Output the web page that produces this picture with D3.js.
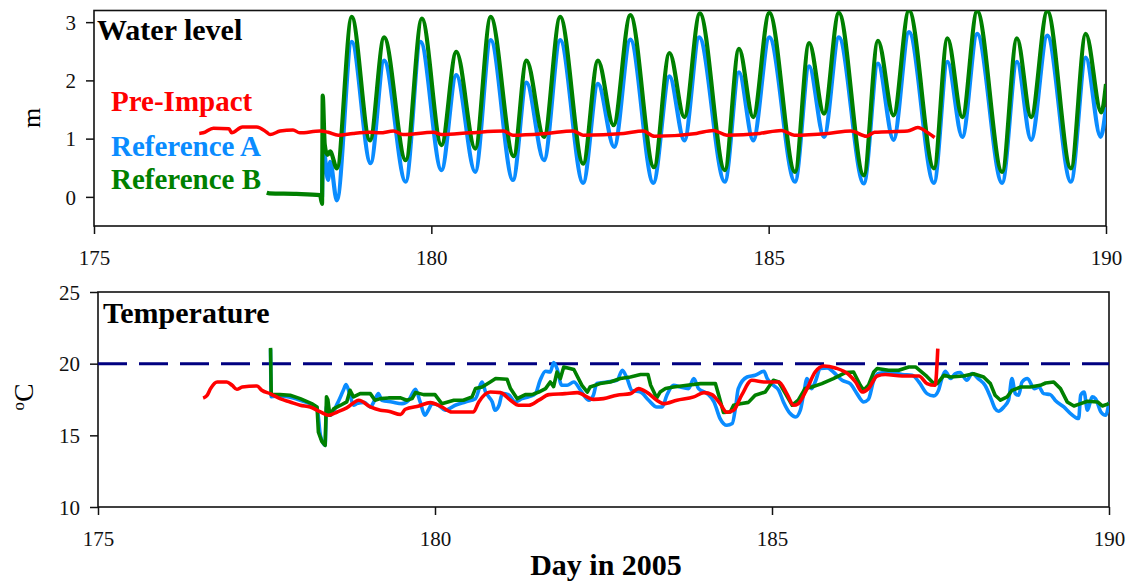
<!DOCTYPE html>
<html>
<head>
<meta charset="utf-8">
<script src="https://cdn.jsdelivr.net/npm/d3@7"></script>
<style>
  html, body { margin: 0; padding: 0; background: #fff; }
  svg { display: block; }
  text { font-family: "Liberation Serif", "Times New Roman", serif; }
</style>
</head>
<body>
<svg id="chart" width="1128" height="582"></svg>
<script>
// ---- data: day of year 2005 vs. value ----
const dayTicks = [175, 180, 185, 190];
const levelTicks = [0, 1, 2, 3];
const tempTicks = [10, 15, 20, 25];
const tempThreshold = 20;

const seriesNames = ["Pre-Impact", "Reference A", "Reference B"];
const seriesColors = ["#ff0000", "#0a8cff", "#008000"];

// Water level (m)
const levelPreImpact = [
  [176.56,1.09],[176.62,1.1],[176.77,1.18],[177.0,1.17],[177.04,1.1],[177.2,1.2],[177.41,1.2],
  [177.56,1.11],[177.61,1.07],[177.76,1.13],[177.95,1.15],[178.05,1.1],[178.35,1.13],[178.47,1.11],
  [178.62,1.06],[178.84,1.09],[179.09,1.11],[179.24,1.1],[179.44,1.13],[179.58,1.07],[180.03,1.11],
  [180.15,1.07],[180.57,1.1],[181.07,1.13],[181.21,1.06],[181.71,1.09],[182.1,1.13],[182.25,1.06],
  [182.85,1.09],[183.14,1.13],[183.31,1.04],[183.93,1.09],[184.18,1.14],[184.38,1.06],[184.87,1.09],
  [185.19,1.14],[185.38,1.06],[185.88,1.09],[186.22,1.13],[186.45,1.04],[186.57,1.11],[187.06,1.13],
  [187.21,1.19],[187.36,1.1],[187.46,1.02]
];
const levelRefA = [
  [178.38,0.0],[178.4,0.83],[178.47,0.29],[178.5,0.6],[178.6,-0.06],[178.82,2.66],[179.1,0.58],
  [179.3,2.34],[179.62,0.26],[179.84,2.66],[180.15,0.46],[180.37,2.09],[180.65,0.43],[180.88,2.69],
  [181.21,0.29],[181.41,1.96],[181.67,0.63],[181.91,2.69],[182.25,0.24],[182.47,1.94],[182.71,0.86],
  [182.95,2.7],[183.29,0.24],[183.53,2.07],[183.75,0.97],[183.97,2.74],[184.35,0.26],[184.56,2.14],
  [184.77,0.97],[185.01,2.74],[185.39,0.26],[185.6,2.24],[185.82,1.03],[186.04,2.74],[186.41,0.23],
  [186.62,2.29],[186.85,0.98],[187.08,2.83],[187.45,0.24],[187.65,2.32],[187.87,1.03],[188.09,2.8],
  [188.46,0.24],[188.68,2.32],[188.89,0.98],[189.13,2.77],[189.48,0.26],[189.7,2.39],[189.92,1.03],
  [190.0,1.54]
];
const levelRefB = [
  [177.56,0.07],[177.6,0.06],[178.0,0.05],[178.35,0.03],[178.38,-0.12],[178.39,1.74],[178.42,0.9],
  [178.46,0.72],[178.5,0.78],[178.6,0.49],[178.82,3.09],[179.09,0.97],[179.3,2.74],[179.62,0.63],
  [179.86,3.06],[180.15,0.89],[180.37,2.49],[180.65,0.83],[180.88,3.09],[181.22,0.7],[181.41,2.34],
  [181.67,1.03],[181.91,3.09],[182.25,0.57],[182.47,2.34],[182.7,1.23],[182.95,3.12],[183.3,0.51],
  [183.53,2.47],[183.75,1.37],[183.98,3.15],[184.35,0.46],[184.56,2.54],[184.77,1.37],[185.01,3.16],
  [185.39,0.43],[185.6,2.64],[185.82,1.43],[186.04,3.16],[186.41,0.37],[186.62,2.68],[186.85,1.4],
  [187.08,3.2],[187.45,0.49],[187.65,2.72],[187.87,1.37],[188.09,3.19],[188.46,0.43],[188.68,2.72],
  [188.89,1.37],[189.13,3.19],[189.48,0.49],[189.7,2.8],[189.93,1.45],[190.0,1.94]
];

// Temperature (°C)
const tempPreImpact = [
  [176.56,17.6],[176.62,17.8],[176.67,18.26],[176.77,18.72],[176.91,18.72],[176.99,18.49],[177.06,18.21],
  [177.14,18.37],[177.36,18.44],[177.43,18.14],[177.56,17.9],[177.7,17.56],[177.85,17.33],[178.0,17.1],
  [178.15,16.98],[178.3,16.63],[178.42,16.4],[178.55,16.63],[178.69,16.91],[178.87,17.45],[179.04,16.98],
  [179.19,16.75],[179.31,16.68],[179.49,16.45],[179.56,16.82],[179.76,17.05],[179.93,17.28],[180.1,16.98],
  [180.25,16.63],[180.57,16.63],[180.65,17.33],[180.82,18.02],[180.97,17.98],[181.12,17.45],[181.24,17.1],
  [181.39,17.1],[181.54,17.45],[181.69,17.84],[181.93,17.91],[182.11,17.98],[182.35,17.51],[182.5,17.56],
  [182.7,17.8],[182.9,17.91],[183.02,18.26],[183.15,17.98],[183.29,17.45],[183.39,17.21],[183.59,17.45],
  [183.84,17.68],[183.99,17.98],[184.11,17.84],[184.23,17.21],[184.33,16.61],[184.43,16.75],[184.55,17.8],
  [184.7,18.84],[184.9,18.72],[185.1,18.72],[185.22,17.91],[185.32,17.1],[185.39,17.21],[185.52,18.26],
  [185.64,19.42],[185.77,19.84],[185.94,19.7],[186.14,19.24],[186.24,18.72],[186.34,18.02],[186.43,18.26],
  [186.56,19.14],[186.68,19.24],[186.93,19.14],[187.18,19.14],[187.3,18.61],[187.42,18.49],[187.46,21.05]
];
const tempRefA = [
  [177.56,21.0],[177.57,17.7],[177.7,17.75],[178.0,17.45],[178.25,16.9],[178.3,15.0],[178.37,14.3],
  [178.39,17.0],[178.45,16.4],[178.55,17.21],[178.64,18.14],[178.68,18.54],[178.74,17.8],[178.79,17.1],
  [178.84,17.21],[178.95,17.3],[179.04,16.98],[179.11,17.5],[179.16,17.91],[179.21,17.45],[179.36,17.33],
  [179.51,17.21],[179.61,17.45],[179.71,18.21],[179.78,17.33],[179.85,16.4],[179.9,16.75],[179.96,17.21],
  [180.05,17.1],[180.15,16.75],[180.3,17.1],[180.45,17.33],[180.6,17.56],[180.7,18.72],[180.75,18.02],
  [180.8,17.68],[180.85,17.33],[180.89,16.75],[180.95,17.1],[181.0,17.91],[181.09,17.84],[181.19,17.33],
  [181.29,17.56],[181.39,17.68],[181.49,17.91],[181.56,18.84],[181.64,19.47],[181.71,19.42],[181.76,20.07],
  [181.81,19.66],[181.88,18.49],[181.96,18.49],[182.06,18.72],[182.16,18.14],[182.28,17.45],[182.35,17.8],
  [182.4,18.61],[182.55,18.72],[182.7,18.84],[182.78,19.54],[182.85,18.96],[182.92,18.14],[183.05,18.02],
  [183.17,17.45],[183.29,16.98],[183.37,16.98],[183.44,17.8],[183.54,18.49],[183.64,18.37],[183.76,18.26],
  [183.84,18.96],[183.91,18.26],[184.04,17.91],[184.14,17.33],[184.23,16.17],[184.33,15.7],[184.41,15.82],
  [184.46,16.98],[184.5,18.26],[184.63,19.07],[184.75,19.19],[184.88,19.47],[184.93,18.96],[185.02,18.49],
  [185.1,18.14],[185.17,17.33],[185.27,16.52],[185.35,16.28],[185.42,16.75],[185.47,17.91],[185.52,18.96],
  [185.59,18.26],[185.64,18.72],[185.72,19.66],[185.82,19.7],[185.91,19.42],[186.04,18.84],[186.16,18.61],
  [186.26,17.91],[186.36,17.33],[186.43,17.51],[186.51,18.84],[186.58,19.31],[186.73,19.42],[186.93,19.24],
  [187.08,19.19],[187.18,18.72],[187.3,17.91],[187.4,17.75],[187.47,18.14],[187.52,18.96],[187.57,19.47],
  [187.65,18.96],[187.72,19.31],[187.79,19.38],[187.89,18.84],[187.97,19.31],[188.06,18.96],[188.16,18.49],
  [188.24,17.68],[188.31,16.87],[188.36,16.68],[188.44,16.98],[188.51,17.45],[188.56,18.96],[188.61,17.91],
  [188.66,17.8],[188.71,18.72],[188.79,18.96],[188.89,18.26],[188.96,18.37],[189.03,17.91],[189.13,17.84],
  [189.2,17.45],[189.33,16.98],[189.43,16.52],[189.55,16.17],[189.58,17.8],[189.63,18.02],[189.68,16.75],
  [189.75,17.68],[189.8,17.56],[189.88,16.63],[189.95,16.4],[190.0,17.33]
];
const tempRefB = [
  [177.56,21.1],[177.57,17.84],[177.7,17.84],[177.85,17.8],[178.0,17.56],[178.17,17.21],[178.25,16.98],
  [178.27,15.23],[178.32,14.58],[178.37,14.3],[178.39,17.68],[178.41,17.5],[178.44,16.4],[178.5,16.87],
  [178.6,17.1],[178.69,17.33],[178.74,18.14],[178.79,17.68],[178.89,17.91],[179.04,17.91],[179.11,17.45],
  [179.19,17.56],[179.31,17.61],[179.49,17.61],[179.58,17.45],[179.66,17.56],[179.71,17.98],[179.83,17.84],
  [180.0,17.84],[180.1,17.21],[180.28,17.45],[180.42,17.45],[180.55,17.68],[180.6,18.26],[180.7,18.37],
  [180.82,18.72],[180.9,18.96],[181.07,18.91],[181.12,18.26],[181.22,17.56],[181.34,17.84],[181.44,17.84],
  [181.54,18.02],[181.64,18.26],[181.71,18.72],[181.76,18.4],[181.81,19.42],[181.86,18.96],[181.91,19.77],
  [182.06,19.59],[182.18,18.49],[182.26,18.02],[182.3,18.37],[182.45,18.61],[182.6,18.72],[182.75,18.96],
  [182.9,19.07],[183.05,19.24],[183.16,19.24],[183.2,18.49],[183.29,17.61],[183.34,18.02],[183.42,18.26],
  [183.54,18.37],[183.74,18.49],[183.94,18.61],[184.16,18.61],[184.21,17.8],[184.28,16.59],[184.38,16.63],
  [184.43,17.1],[184.53,17.21],[184.65,17.3],[184.75,17.8],[184.9,18.02],[185.02,18.84],[185.1,18.72],
  [185.2,17.91],[185.3,17.1],[185.39,17.45],[185.49,18.26],[185.59,18.37],[185.74,18.61],[185.91,18.96],
  [186.09,19.38],[186.21,19.42],[186.31,18.49],[186.36,18.14],[186.43,18.49],[186.51,19.42],[186.56,19.66],
  [186.73,19.54],[186.88,19.54],[187.03,19.77],[187.13,19.77],[187.28,19.19],[187.4,18.61],[187.45,18.61],
  [187.55,19.19],[187.65,19.07],[187.84,19.14],[187.99,19.3],[188.14,19.07],[188.24,18.61],[188.31,17.8],
  [188.39,17.45],[188.49,17.68],[188.56,18.14],[188.69,18.37],[188.83,18.37],[188.98,18.49],[189.06,18.65],
  [189.18,18.72],[189.28,18.26],[189.38,17.33],[189.48,17.05],[189.58,17.21],[189.68,17.38],[189.83,17.33],
  [189.9,17.05],[190.0,17.21]
];

// ---- layout ----
const svg = d3.select("#chart");
const panelTop = { x0: 94, x1: 1106, y0: 10.5, y1: 226 };
const panelBot = { x0: 98, x1: 1109, y0: 292, y1: 507 };

const xTop = d3.scaleLinear().domain([175, 190]).range([panelTop.x0, panelTop.x1]);
const yTop = d3.scaleLinear().domain([-0.5, 3.2]).range([panelTop.y1, panelTop.y0]);
const xBot = d3.scaleLinear().domain([175, 190]).range([panelBot.x0, panelBot.x1]);
const yBot = d3.scaleLinear().domain([10, 25]).range([panelBot.y1, panelBot.y0]);

const defs = svg.append("defs");
function clip(id, p) {
  defs.append("clipPath").attr("id", id).append("rect")
    .attr("x", p.x0).attr("y", p.y0).attr("width", p.x1 - p.x0).attr("height", p.y1 - p.y0);
}
clip("clipTop", panelTop);
clip("clipBot", panelBot);

function axes(p, x, y, yTicks) {
  const gx = svg.append("g").attr("transform", `translate(0,${p.y1})`)
    .call(d3.axisBottom(x).tickValues(dayTicks).tickFormat(d3.format("d")).tickSize(8).tickPadding(16));
  const gy = svg.append("g").attr("transform", `translate(${p.x0},0)`)
    .call(d3.axisLeft(y).tickValues(yTicks).tickFormat(d3.format("d")).tickSize(8).tickPadding(10));
  [gx, gy].forEach(g => {
    g.select(".domain").remove();
    g.selectAll(".tick line").attr("stroke", "#111").attr("stroke-width", 1.5);
    g.selectAll(".tick text").attr("fill", "#111").style("font-size", "21px")
      .style("font-family", "'Liberation Serif', 'Times New Roman', serif");
  });
  gy.selectAll(".tick text").attr("dy", "0.34em");
  svg.append("rect").attr("x", p.x0).attr("y", p.y0)
    .attr("width", p.x1 - p.x0).attr("height", p.y1 - p.y0)
    .attr("fill", "none").attr("stroke", "#111").attr("stroke-width", 1.6);
}

// ---- water level panel ----
axes(panelTop, xTop, yTop, levelTicks);
const lineTopSmooth = d3.line().x(d => xTop(d[0])).y(d => yTop(d[1])).curve(d3.curveMonotoneX);
const gTop = svg.append("g").attr("clip-path", "url(#clipTop)");
gTop.append("path").datum(levelRefA).attr("d", lineTopSmooth)
  .attr("fill", "none").attr("stroke", seriesColors[1]).attr("stroke-width", 4.2).attr("stroke-linejoin", "round");
gTop.append("path").datum(levelRefB).attr("d", lineTopSmooth)
  .attr("fill", "none").attr("stroke", seriesColors[2]).attr("stroke-width", 4.2).attr("stroke-linejoin", "round");
gTop.append("path").datum(levelPreImpact).attr("d", lineTopSmooth)
  .attr("fill", "none").attr("stroke", seriesColors[0]).attr("stroke-width", 3.5).attr("stroke-linejoin", "round");

svg.append("text").attr("x", 97).attr("y", 40).attr("font-weight", "bold")
  .style("font-size", "30px").attr("fill", "#000").text("Water level");

// series key
const legendY = [111, 156, 188.5];
seriesNames.forEach((n, i) => {
  svg.append("text").attr("x", 111).attr("y", legendY[i]).attr("font-weight", "bold")
    .style("font-size", "29px").attr("fill", seriesColors[i]).text(n);
});

svg.append("text").attr("transform", "translate(40,118) rotate(-90)")
  .attr("text-anchor", "middle").style("font-size", "26px").attr("fill", "#000").text("m");

// ---- temperature panel ----
axes(panelBot, xBot, yBot, tempTicks);
svg.append("line")
  .attr("x1", panelBot.x0).attr("x2", panelBot.x1)
  .attr("y1", yBot(tempThreshold)).attr("y2", yBot(tempThreshold))
  .attr("stroke", "#000080").attr("stroke-width", 3).attr("stroke-dasharray", "29,12");

const lineBotSmooth = d3.line().x(d => xBot(d[0])).y(d => yBot(d[1])).curve(d3.curveMonotoneX);
const lineBot = d3.line().x(d => xBot(d[0])).y(d => yBot(d[1]));
const gBot = svg.append("g").attr("clip-path", "url(#clipBot)");
gBot.append("path").datum(tempRefA).attr("d", lineBotSmooth)
  .attr("fill", "none").attr("stroke", seriesColors[1]).attr("stroke-width", 3.6).attr("stroke-linejoin", "round");
gBot.append("path").datum(tempRefB).attr("d", lineBot)
  .attr("fill", "none").attr("stroke", seriesColors[2]).attr("stroke-width", 3.6).attr("stroke-linejoin", "round");
gBot.append("path").datum(tempPreImpact).attr("d", lineBotSmooth)
  .attr("fill", "none").attr("stroke", seriesColors[0]).attr("stroke-width", 3.6).attr("stroke-linejoin", "round");

svg.append("text").attr("x", 103).attr("y", 323).attr("font-weight", "bold")
  .style("font-size", "30px").attr("fill", "#000").text("Temperature");

const tY = svg.append("text").attr("transform", "translate(33,397) rotate(-90)")
  .attr("text-anchor", "middle").style("font-size", "28px").attr("fill", "#000");
tY.append("tspan").attr("baseline-shift", "super").style("font-size", "17px").text("o");
tY.append("tspan").text("C");

svg.append("text").attr("x", 606).attr("y", 575).attr("text-anchor", "middle")
  .attr("font-weight", "bold").style("font-size", "30px").attr("fill", "#000").text("Day in 2005");
</script>
</body>
</html>
